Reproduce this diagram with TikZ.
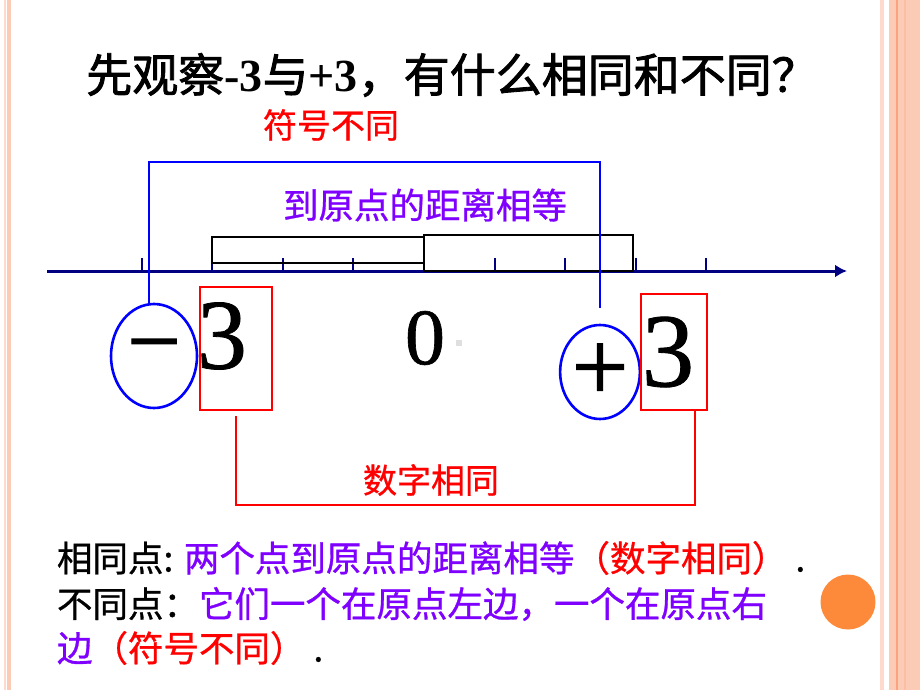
\documentclass[tikz,border=0pt]{standalone}
\usepackage{fontspec}
\setmainfont{Liberation Serif}
\newfontfamily\cjk[FakeBold=0.8]{Noto Sans CJK SC}
\newfontfamily\cjkbold[FakeBold=1.8]{Noto Sans CJK SC}
\newfontfamily\signfont[FakeBold=1.4]{Liberation Serif}
\newfontfamily\numfont[FakeBold=0.8]{Liberation Serif}
\usetikzlibrary{shapes.geometric, arrows.meta}
\definecolor{axisblue}{HTML}{000080}
\definecolor{textpurple}{HTML}{7F00FF}
\definecolor{peach}{HTML}{FCCBB6}
\definecolor{peachlight}{HTML}{FDDACC}
\definecolor{peachdark}{HTML}{FBA27E}
\definecolor{dotorange}{HTML}{FD8A3A}
\newcommand{\fsz}[1]{\fontsize{#1}{#1}\selectfont}

\begin{document}
\begin{tikzpicture}[
            x=1pt, y=-1pt,
            every node/.style={inner sep=0pt, outer sep=0pt}, % text nodes sit tight
            hanzi/.style={font=\cjk\fsz{35.5}}, % chinese labels
            bignum/.style={font=\numfont\fsz{#1}}, % large serif digits
            signring/.style={ellipse, draw=blue, line width=2.6pt, font=\signfont}, % blue rings round the signs
            numbox/.style={rectangle, draw=red, line width=2pt}, % red frames round the 3s
            distbox/.style={draw=black, line width=2.5pt}, % distance boxes on the axis
            bluebracket/.style={draw=blue, line width=2pt},
            redbracket/.style={draw=red, line width=2.2pt},
            axisline/.style={draw=axisblue, line width=3pt, -{Latex[length=12pt,width=13pt]}}
            ]
    \useasboundingbox (0,0) rectangle (920,690);

    % side stripes
    \fill[peachlight] (4,0) rectangle (6,690);
    \fill[peach] (7,0) rectangle (11,690);
    \fill[peachlight] (880,0) rectangle (884,690);
    \fill[peach] (889,0) rectangle (920,690);
    \fill[peachdark] (896,0) rectangle (898,690);
    \fill[peach!70!peachdark] (904,0) rectangle (906,690);

    % title
    \node (title) at (452,75) {\fsz{46}{\cjkbold 先观察}{\bfseries -3}{\cjkbold 与}{\bfseries +3}{\cjkbold ，有什么相同和不同？}};

    % number line
    \draw[axisline] (47,271) -- (847,271);
    \foreach \t in {-4,...,4}
        \draw[axisblue, line width=2pt] ({424+70.6*\t},271) -- ++(0,-13);
    \draw[distbox] (212,237) rectangle (424,263);
    \draw[distbox] (424,235) rectangle (633,271);

    % labels above the axis
    \node[hanzi, red, font=\cjk\fsz{34}] (fuhao) at (331,125) {符号不同};
    \node[hanzi, textpurple] (juli) at (425,205) {到原点的距离相等};

    % signs and numbers
    \node[signring, minimum width=86pt, minimum height=104pt] (neg) at (154,356) {\fsz{95}−};
    \node[signring, minimum width=78pt, minimum height=94pt] (pos) at (600,372) {\fsz{100}+};
    \node[numbox, minimum width=72pt, minimum height=123pt] (boxL) at (236,348.5) {};
    \node[numbox, minimum width=66pt, minimum height=116pt] (boxR) at (674,352) {};
    \node[bignum=100] (numL) at (222,336) {3};
    \node[bignum=105] (numR) at (668,352) {3};
    \node[bignum=80] (zero) at (425,338) {0};
    \fill[gray!25] (456,340) rectangle (462,346);

    % brackets
    \draw[bluebracket] ([xshift=-5pt]neg.north) -- ++(0,-142) -| ([yshift=17pt]pos.north);
    \draw[redbracket] ([yshift=-6pt]boxL.south) -- ++(0,89) -| ([xshift=-12pt]boxR.south east);
    \node[hanzi, red, font=\cjk\fsz{34}] (shuzi) at (431,480) {数字相同};

    % summary lines
    \node[hanzi, anchor=west] (same) at (57,558) {相同点: \textcolor{textpurple}{两个点到原点的距离相等}\textcolor{red}{（数字相同）}~.};
    \node[hanzi, anchor=west] (diff) at (57,604) {不同点：\textcolor{textpurple}{它们一个在原点左边，一个在原点右}};
    \node[hanzi, anchor=west] (diffend) at (57,648) {\textcolor{textpurple}{边}\textcolor{red}{（符号不同）}~.};

    \node[circle, fill=dotorange, minimum size=55pt] (dot) at (848,602) {};
\end{tikzpicture}
\end{document}
